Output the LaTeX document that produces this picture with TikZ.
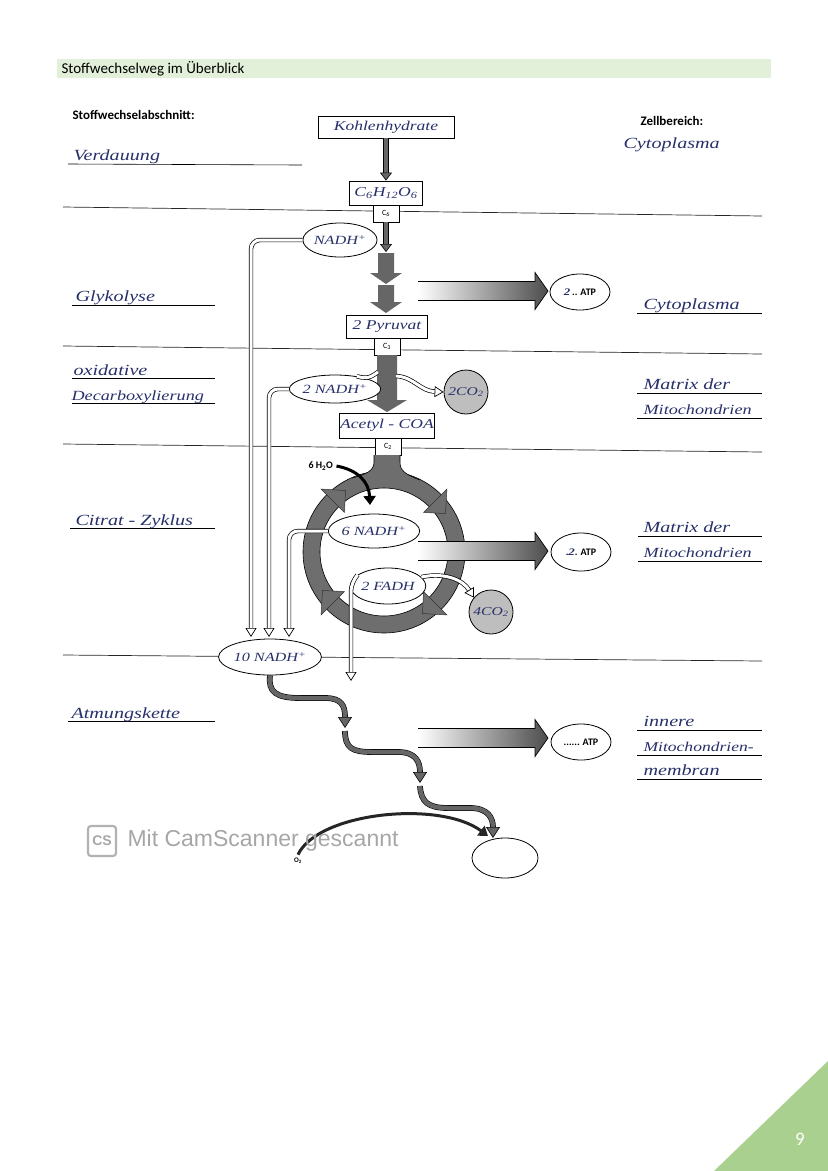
\documentclass[tikz,border=0pt]{standalone}
\usepackage{fontspec}
\setmainfont{Carlito}
\newfontfamily\hand{Liberation Serif}[FakeStretch=1.3]
\newfontfamily\scanfont{Liberation Sans}
\usetikzlibrary{arrows.meta, calc, positioning, shapes.geometric}
\definecolor{ink}{HTML}{27306A}
\definecolor{headgreen}{HTML}{E2EFD9}
\definecolor{cornergreen}{HTML}{A9D08E}
\definecolor{arrowgray}{HTML}{666666}
\definecolor{ringgray}{HTML}{6E6E6E}
\definecolor{co2gray}{HTML}{BEBEBE}
\newcommand\hw{\hand\itshape\color{ink}}
% fat block arrow pointing down: x, top, head base, tip, half shaft, half head
\newcommand\fatdown[6]{\fill[arrowgray] (#1-#5,#2) -- (#1-#5,#3) -- (#1-#6,#3) -- (#1,#4) -- (#1+#6,#3) -- (#1+#5,#3) -- (#1+#5,#2) -- cycle;}
% shaded ATP arrow at height #1
\newcommand\atparrow[1]{%
  \shade[left color=white, right color=black!70] (418,#1-9.5) -- (535,#1-9.5) -- (535,#1-18.5) -- (548,#1) -- (535,#1+18.5) -- (535,#1+9.5) -- (418,#1+9.5) -- cycle;
  \draw[line width=0.7pt] (418,#1-9.5) -- (535,#1-9.5) -- (535,#1-18.5) -- (548,#1) -- (535,#1+18.5) -- (535,#1+9.5) -- (418,#1+9.5);}
\tikzset{
    sheet/.style={x=1pt, y=-1pt},
    rule/.style={line width=0.7pt, black!85},
    uline/.style={line width=0.6pt},
    hand/.style={font=\hw\fontsize{15.5}{16}\selectfont},
    printed/.style={font=\bfseries\fontsize{13}{15}\selectfont},
    labelbox/.style={draw, line width=0.8pt, fill=white, inner sep=1pt, font=\hw\fontsize{13.5}{14}\selectfont},
    cbox/.style={draw, line width=0.8pt, fill=white, minimum width=26pt, minimum height=17pt, inner sep=0pt, font=\fontsize{8}{9}\selectfont},
    oval/.style={ellipse, draw, line width=0.8pt, fill=white, inner sep=0pt, font=\hw\fontsize{12.5}{13}\selectfont},
    atp/.style={ellipse, draw, line width=0.8pt, fill=white, inner sep=0pt, minimum width=60pt, minimum height=36pt, font=\bfseries\fontsize{10}{11}\selectfont},
    co2/.style={circle, draw, line width=0.8pt, fill=co2gray, inner sep=0pt, minimum size=44pt, font=\hw\fontsize{12}{13}\selectfont},
    grayarrow/.style={double=arrowgray, double distance=4pt, line width=0.6pt, -{Triangle[length=8pt, width=12pt, fill=arrowgray]}},
    hollow/.style={double=white, double distance=3pt, line width=0.7pt, rounded corners=9pt, -{Triangle[length=9pt, width=11pt, fill=white]}},
    hollowline/.style={double=white, double distance=3pt, line width=0.7pt},
    wavearrow/.style={double=arrowgray, double distance=4.5pt, line width=0.6pt, -{Triangle[length=11pt, width=14pt, fill=arrowgray]}},
    blackarrow/.style={line width=3pt, -{Triangle[length=9pt, width=12pt]}},
}
\begin{document}
\begin{tikzpicture}[sheet]
\useasboundingbox (0,0) rectangle (828,1171);
% page decoration
\fill[headgreen] (57,59) rectangle (771,78);
\node[anchor=west, font=\fontsize{15}{16}\selectfont] (title) at (58,68.5) {Stoffwechselweg im Überblick};
\fill[cornergreen] (714,1171) -- (828,1061) -- (828,1171) -- cycle;
\node[text=white, font=\fontsize{19}{20}\selectfont] (pagenum) at (800,1139) {9};

% column heads
\node[printed, anchor=west] (colleft) at (69,115) {Stoffwechselabschnitt:};
\node[printed, anchor=west] (colright) at (637,121) {Zellbereich:};

% separators
\draw[rule] (63,207) -- (762,216);
\draw[rule] (63,346) -- (762,354);
\draw[rule] (63,444) -- (762,452);
\draw[rule] (63,655) -- (762,661);

% underlines left
\draw[uline] (68,164) -- (302,165);
\draw[uline] (72,305) -- (215,305);
\draw[uline] (72,378) -- (215,378);
\draw[uline] (72,403) -- (215,403);
\draw[uline] (70,528) -- (215,528);
\draw[uline] (68,721) -- (215,721);
% underlines right
\draw[uline] (637,313) -- (762,313);
\draw[uline] (637,393) -- (762,393);
\draw[uline] (637,418) -- (762,418);
\draw[uline] (638,536) -- (762,536);
\draw[uline] (638,561) -- (762,561);
\draw[uline] (637,730) -- (762,730);
\draw[uline] (637,755) -- (762,755);
\draw[uline] (637,779) -- (762,779);

% handwritten entries
\node[hand, anchor=base west] (verdauung) at (70,160) {Verdauung};
\node[hand, anchor=base west] (glykolyse) at (72,301) {Glykolyse};
\node[hand, anchor=base west] (oxidativ) at (70,375) {oxidative};
\node[hand, anchor=base west, font=\hw\fontsize{14}{15}\selectfont] (decarb) at (68,400) {Decarboxylierung};
\node[hand, anchor=base west] (citrat) at (72,525) {Citrat - Zyklus};
\node[hand, anchor=base west] (atmung) at (68,718) {Atmungskette};
\node[hand, anchor=base west] (zellA) at (620,148) {Cytoplasma};
\node[hand, anchor=base west] (zellB) at (640,309) {Cytoplasma};
\node[hand, anchor=base west] (zellC) at (640,389) {Matrix der};
\node[hand, anchor=base west, font=\hw\fontsize{14}{15}\selectfont] (zellD) at (640,414) {Mitochondrien};
\node[hand, anchor=base west] (zellE) at (640,532) {Matrix der};
\node[hand, anchor=base west, font=\hw\fontsize{14}{15}\selectfont] (zellF) at (640,557) {Mitochondrien};
\node[hand, anchor=base west] (zellG) at (640,726) {innere};
\node[hand, anchor=base west, font=\hw\fontsize{13.5}{15}\selectfont] (zellH) at (640,751) {Mitochondrien-};
\node[hand, anchor=base west] (zellI) at (640,775) {membran};

% main path
\node[labelbox, minimum width=136pt, minimum height=22pt] (kohle) at (386,127) {Kohlenhydrate};
\node[labelbox, minimum width=73pt, minimum height=24pt] (glucose) at (386,193) {C\textsubscript{6}H\textsubscript{12}O\textsubscript{6}};
\node[cbox] (csix) at (386,213.5) {C\textsubscript{6}};
\coordinate (chev) at (386,252);
\draw[grayarrow] (kohle) -- (glucose);
\draw[grayarrow] (csix) -- (chev);
\fatdown{386}{253}{273}{284}{8}{16}
\fatdown{386}{285}{302}{313}{8}{16}

\node[labelbox, minimum width=81pt, minimum height=23pt] (pyruvat) at (387,326.5) {2 Pyruvat};
\node[cbox] (cthree) at (387,346.5) {C\textsubscript{3}};
\fatdown{387}{355}{400}{412}{10}{20}
\node[labelbox, minimum width=93pt, minimum height=25pt] (acetyl) at (387,425.5) {Acetyl - COA};
\node[cbox] (ctwo) at (388,446.5) {C\textsubscript{2}};

% citrate cycle
\coordinate (ctr) at (384,552);
\fill[ringgray, even odd rule] (ctr) circle (81) (ctr) circle (64);
\draw[line width=0.6pt] (ctr) circle (81) (ctr) circle (64);
\fill[ringgray] (374,455) -- (374,462) .. controls (374,470) and (368,474) .. (352,478) -- (420,480) .. controls (404,474) and (400,470) .. (400,462) -- (400,455) -- cycle;
\draw[line width=0.6pt] (374,455) -- (374,462) .. controls (374,470) and (368,474) .. (352,478);
\draw[line width=0.6pt] (400,455) -- (400,462) .. controls (400,470) and (404,474) .. (420,480);
\foreach \a in {45,135,225,315}
  \filldraw[ringgray, draw=black!80, line width=0.5pt] ($(ctr)+(\a:56)$) -- ($(ctr)+(\a+13:72.5)$) -- ($(ctr)+(\a:89)$) -- cycle;

\node[anchor=west, font=\bfseries\fontsize{10}{11}\selectfont] (h2o) at (305,466) {6 H\textsubscript{2}O};
\coordinate (h2oend) at (370,505);
\draw[blackarrow] (h2o.east) .. controls (358,470) and (369,482) .. (h2oend);

% carriers
\node[oval, minimum width=64pt, minimum height=34pt] (nadhA) at (340,240) {NADH\textsuperscript{+}};
\node[oval, minimum width=64pt, minimum height=28pt] (nadhB) at (335,389) {2 NADH\textsuperscript{+}};
\node[oval, minimum width=64pt, minimum height=34pt] (nadhC) at (374,531) {6 NADH\textsuperscript{+}};
\node[oval, minimum width=62pt, minimum height=36pt] (fadh) at (388,586) {2 FADH};
\node[oval, minimum width=76pt, minimum height=36pt] (tennadh) at (270,657) {10 NADH\textsuperscript{+}};
\node[co2] (twoco) at (466,392) {2CO\textsubscript{2}};
\node[co2] (fourco) at (491,612) {4CO\textsubscript{2}};

% hydrogen transport
\coordinate (endA) at (251,637);
\coordinate (endB) at (269,637);
\coordinate (endC) at (289,637);
\coordinate (fadhend) at (351,681);
\coordinate (shaftL) at (378,372);
\coordinate (shaftR) at (396,376);
\draw[hollow] (nadhA.west) -| (endA);
\draw[hollow] (nadhB.west) -| (endB);
\draw[hollow] (nadhC.west) -| (endC);
\draw[hollow] (fadh.160) .. controls (354,579) and (351,586) .. (351,600) -- (fadhend);
\draw[hollow] (fadh.15) .. controls (445,572) and (463,580) .. (fourco.140);
\draw[hollowline] (nadhB.30) .. controls (370,380) and (373,375) .. (shaftL);
\draw[hollow] (shaftR) .. controls (414,377) and (420,391) .. (twoco.west);

% ATP
\atparrow{291}
\atparrow{551}
\atparrow{738}
\node[atp] (atpA) at (580,292) {{\hw 2}\,.. ATP};
\node[atp, minimum height=38pt] (atpB) at (581,552) {.{\hw 2}. ATP};
\node[atp] (atpC) at (581,742) {...... ATP};

% respiratory chain
\coordinate (waveA) at (345,728);
\coordinate (waveB) at (345,731);
\coordinate (waveC) at (420,783);
\coordinate (waveD) at (420,786);
\coordinate (waveE) at (493,838);
\draw[wavearrow] (tennadh.south) .. controls (268,692) and (276,698) .. (300,698) -- (325,698) .. controls (342,698) and (345,706) .. (waveA);
\draw[wavearrow] (waveB) .. controls (345,748) and (352,752) .. (372,752) -- (398,752) .. controls (416,752) and (420,762) .. (waveC);
\draw[wavearrow] (waveD) .. controls (421,802) and (428,808) .. (448,808) -- (470,808) .. controls (488,808) and (493,818) .. (waveE);
\node[ellipse, draw, line width=0.8pt, minimum width=66pt, minimum height=40pt] (water) at (505,858) {};
\node[font=\bfseries\fontsize{7}{8}\selectfont] (otwo) at (298,861) {O\textsubscript{2}};
\coordinate (otwoend) at (488,836);
\draw[blackarrow, draw=black!85] (otwo.north) .. controls (318,812) and (440,800) .. (otwoend);

% scanner mark
\node[draw=black!30, line width=2.2pt, rounded corners=3pt, text=black!35, font=\scanfont\bfseries\fontsize{14}{14}\selectfont, minimum width=28pt, minimum height=30pt, inner sep=0pt] (csicon) at (102,841) {CS};
\node[anchor=west, text=black!35, font=\scanfont\fontsize{23}{24}\selectfont] (cstext) at (124,841) {Mit CamScanner gescannt};
\end{tikzpicture}
\end{document}
